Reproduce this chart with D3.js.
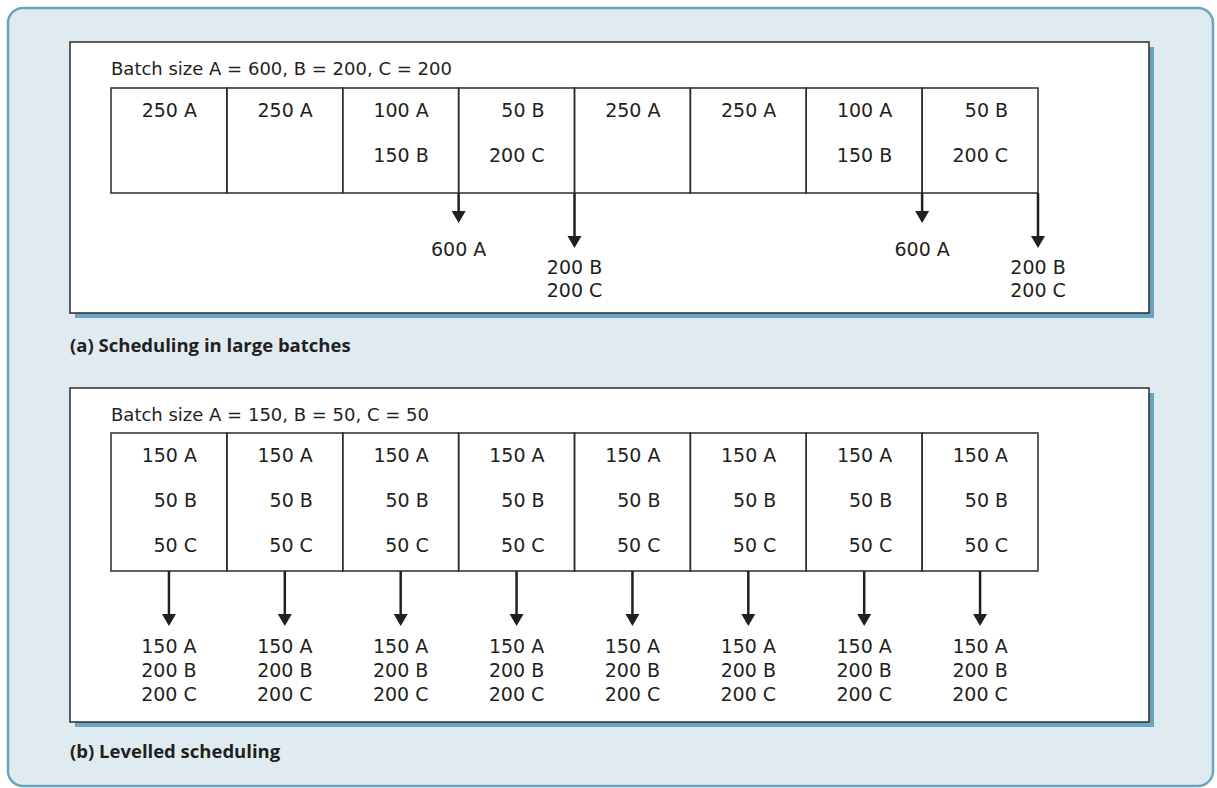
<!DOCTYPE html>
<html><head><meta charset="utf-8">
<script src="https://cdn.jsdelivr.net/npm/d3@7"></script>
<style>
html,body{margin:0;padding:0;background:#fff;}
svg{display:block;font-family:"Open Sans",sans-serif;}
</style></head>
<body>
<script>
// ---- data ----
const slots = [1,2,3,4,5,6,7,8];
const titleA = "Batch size A = 600, B = 200, C = 200";
const titleB = "Batch size A = 150, B = 50, C = 50";
const captionA = "(a) Scheduling in large batches";
const captionB = "(b) Levelled scheduling";
const cellsA = [["250 A",""],["250 A",""],["100 A","150 B"],["50 B","200 C"],["250 A",""],["250 A",""],["100 A","150 B"],["50 B","200 C"]];
const cellsB = [["150 A","50 B","50 C"],["150 A","50 B","50 C"],["150 A","50 B","50 C"],["150 A","50 B","50 C"],["150 A","50 B","50 C"],["150 A","50 B","50 C"],["150 A","50 B","50 C"],["150 A","50 B","50 C"]];
// deliveries in (a): after slot number, label lines, long arrow?
const deliveriesA = [
  {after:3, lines:["600 A"], long:false},
  {after:4, lines:["200 B","200 C"], long:true},
  {after:7, lines:["600 A"], long:false},
  {after:8, lines:["200 B","200 C"], long:true}
];
const deliveriesB = [
  {slot:1, lines:["150 A","200 B","200 C"]},{slot:2, lines:["150 A","200 B","200 C"]},
  {slot:3, lines:["150 A","200 B","200 C"]},{slot:4, lines:["150 A","200 B","200 C"]},
  {slot:5, lines:["150 A","200 B","200 C"]},{slot:6, lines:["150 A","200 B","200 C"]},
  {slot:7, lines:["150 A","200 B","200 C"]},{slot:8, lines:["150 A","200 B","200 C"]}
];

const W = 1217, H = 788;
const ink = "#231f20", lineC = "#2b2b2b", blue = "#6aa3bf", bg = "#e0ebf1";
const FS = 19, FF = "'DejaVu Sans', sans-serif";
const svg = d3.select("body").append("svg").attr("width", W).attr("height", H);

// outer panel
svg.append("rect").attr("x",8).attr("y",8).attr("width",1205).attr("height",778)
  .attr("rx",15).attr("fill",bg).attr("stroke",blue).attr("stroke-width",2.5);

const x = d3.scaleBand().domain(slots).range([111, 1038]).paddingInner(0).paddingOuter(0);

function arrow(g, ax, y1, tip) {
  g.append("line").attr("x1",ax).attr("x2",ax).attr("y1",y1).attr("y2",tip-10)
    .attr("stroke",ink).attr("stroke-width",2.5);
  g.append("path").attr("d",`M${ax-7},${tip-12} L${ax+7},${tip-12} L${ax},${tip} Z`).attr("fill",ink);
}
function multiline(g, cx, y0, lines, gap, anchor) {
  const t = g.append("text").attr("x",cx).attr("y",y0).attr("text-anchor",anchor)
    .attr("font-size",FS).attr("font-family",FF).attr("fill",ink);
  lines.forEach((s,k)=>{
    t.append("tspan").attr("x",cx).attr("dy", k===0 ? "0.35em" : gap).text(s);
  });
}
function panel(top, bottom) {
  svg.append("rect").attr("x",75).attr("y",top+5).attr("width",1149-70).attr("height",bottom-top)
    .attr("fill",blue);
  svg.append("rect").attr("x",70).attr("y",top).attr("width",1149-70).attr("height",bottom-top)
    .attr("fill","#fff").attr("stroke",lineC).attr("stroke-width",1.5);
}
function caption(txt, y) {
  svg.append("text").attr("x",70).attr("y",y).attr("fill",ink)
    .attr("font-size",18.5).attr("font-weight",700).text(txt);
}

// ---- Panel A ----
panel(42, 313);
svg.append("text").attr("x",111).attr("y",75).attr("font-size",18).attr("font-family",FF).attr("fill",ink).text(titleA);
const gA = svg.append("g");
gA.selectAll("rect.cell").data(slots).join("rect").attr("class","cell")
  .attr("x", d=>x(d)).attr("y",88).attr("width",x.bandwidth()).attr("height",193-88)
  .attr("fill","none").attr("stroke",lineC).attr("stroke-width",1.5);
slots.forEach((s,i)=>{
  multiline(gA, x(s)+x.bandwidth()/2+28, 110, cellsA[i].filter(t=>t), 45, "end");
});
deliveriesA.forEach(d=>{
  const bx = x(d.after)+x.bandwidth();
  arrow(gA, bx, 193, d.long ? 248 : 223);
  multiline(gA, bx, d.long ? 267 : 249, d.lines, 23, "middle");
});
caption(captionA, 352);

// ---- Panel B ----
panel(388, 722);
svg.append("text").attr("x",111).attr("y",421).attr("font-size",18).attr("font-family",FF).attr("fill",ink).text(titleB);
const gB = svg.append("g");
gB.selectAll("rect.cell").data(slots).join("rect").attr("class","cell")
  .attr("x", d=>x(d)).attr("y",433).attr("width",x.bandwidth()).attr("height",571-433)
  .attr("fill","none").attr("stroke",lineC).attr("stroke-width",1.5);
slots.forEach((s,i)=>{
  multiline(gB, x(s)+x.bandwidth()/2+28, 455, cellsB[i], 45, "end");
});
deliveriesB.forEach(d=>{
  const cx = x(d.slot)+x.bandwidth()/2;
  arrow(gB, cx, 571, 626);
  multiline(gB, cx, 646, d.lines, 24, "middle");
});
caption(captionB, 758);
</script>
</body></html>
